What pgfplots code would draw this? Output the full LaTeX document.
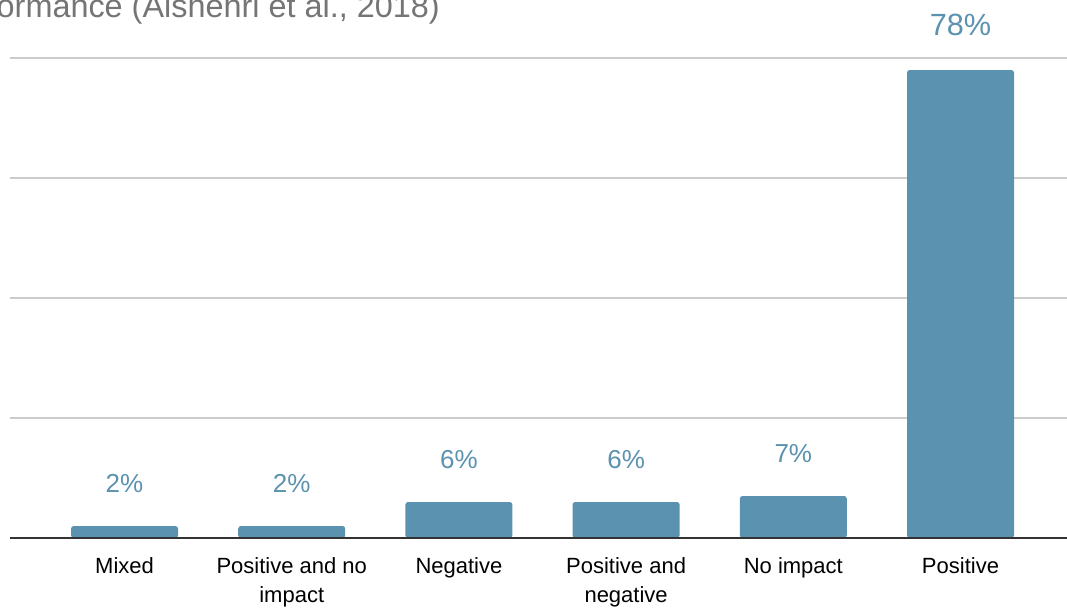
\documentclass[border=0pt]{standalone}
\usepackage{fontspec}
\setmainfont{Liberation Sans}
\usepackage{pgfplots}
\pgfplotsset{compat=1.18}
\definecolor{barblue}{HTML}{5A92AF}
\definecolor{lblblue}{HTML}{5B92B0}
\definecolor{gridgray}{HTML}{CCCCCC}
\definecolor{titlegray}{HTML}{757575}
\definecolor{basegray}{HTML}{333333}
\begin{document}
\begin{tikzpicture}
\begin{axis}[
  at={(7.5pt,52.5pt)}, anchor=south west,
  scale only axis, width=792.75pt, height=360pt,
  xmin=-0.685, xmax=5.637, ymin=0, ymax=80,
  /pgf/number format/assume math mode=true,
  axis line style={draw=none},
  ytick={20,40,60,80}, yticklabels={}, ymajorgrids,
  grid style={gridgray, line width=1.2pt},
  major tick length=0pt,
  xtick={0,1,2,3,4,5},
  xticklabels={Mixed, {Positive and no\\impact}, Negative, {Positive and\\negative}, No impact, Positive},
  xticklabel style={align=center, font=\fontsize{16.5}{21.5}\selectfont, anchor=north, inner sep=0pt, yshift=-14.5pt},
  clip=false,
  ybar, bar width=80.25pt,
]
\addplot[fill=barblue, draw=none, bar shift=0pt, rounded corners=2pt,
  nodes near coords={\pgfmathprintnumber{\pgfplotspointmeta}\%},
  nodes near coords style={lblblue, font=\fontsize{19.5}{23}\selectfont, anchor=south, inner sep=0pt, yshift=24.75pt}]
  coordinates {(0,2) (1,2) (2,6) (3,6) (4,7)};
\addplot[fill=barblue, draw=none, bar shift=0pt, rounded corners=2pt,
  nodes near coords={\pgfmathprintnumber{\pgfplotspointmeta}\%},
  nodes near coords style={lblblue, font=\fontsize{23}{27}\selectfont, anchor=south, inner sep=0pt, yshift=25.5pt}]
  coordinates {(5,78)};
\draw[basegray, line width=1.1pt] (rel axis cs:0,0) -- (rel axis cs:1,0);
\end{axis}
\node[anchor=base east, titlegray, font=\fontsize{24.3}{29}\selectfont, inner sep=0pt] at (330pt,443pt) {performance (Alshehri et al., 2018)};
\pgfresetboundingbox
\path (0,0) rectangle (800.25pt,456pt);
\end{tikzpicture}
\end{document}
